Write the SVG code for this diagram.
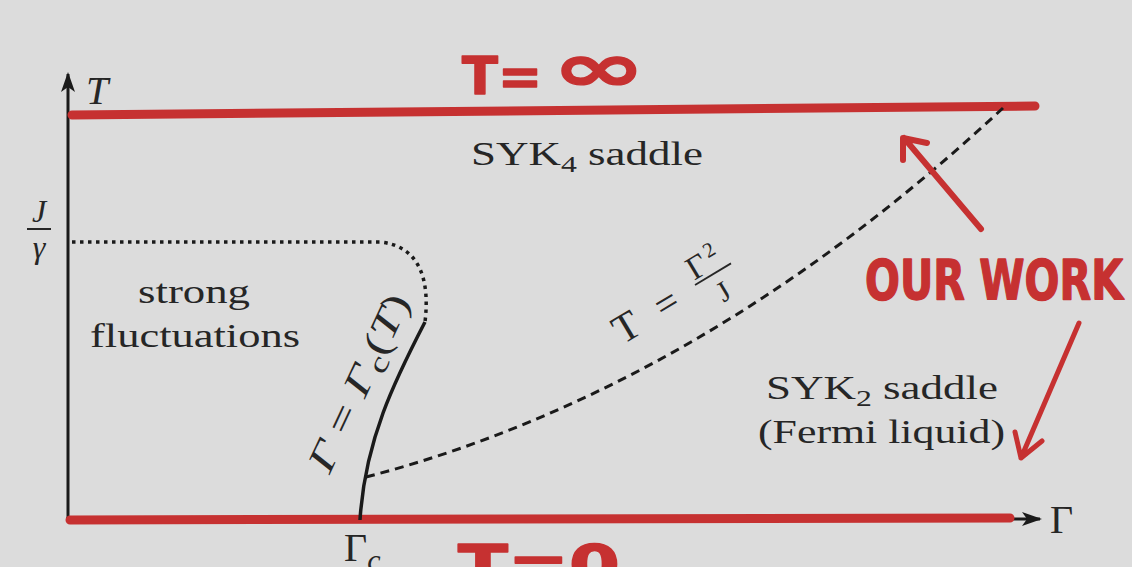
<svg xmlns="http://www.w3.org/2000/svg" width="1132" height="567" viewBox="0 0 1132 567">
<style>
.lbl{font-family:"Liberation Serif","DejaVu Serif",serif;fill:#262626;}
.it{font-style:italic;}
.hand{font-family:"DejaVu Sans","Liberation Sans",sans-serif;font-weight:bold;fill:#c63131;stroke:#c63131;stroke-width:1.5;stroke-linejoin:round;}
.red{stroke:#c63131;fill:none;stroke-linecap:round;stroke-linejoin:round;}
</style>
<defs>
<marker id="ah" viewBox="0 0 20 14" refX="18" refY="7" markerWidth="20" markerHeight="14" markerUnits="userSpaceOnUse" orient="auto">
<path d="M0,0 L20,7 L0,14 L5,7 Z" fill="#1a1a1a"/>
</marker>
</defs>
<rect width="1132" height="567" fill="#dcdcdc"/>
<g id="connectors">
<line x1="68" y1="521" x2="68" y2="74" stroke="#1a1a1a" stroke-width="3" marker-end="url(#ah)"/>
<line x1="66" y1="519" x2="1040" y2="519" stroke="#1a1a1a" stroke-width="3" marker-end="url(#ah)"/>
<path class="red" d="M70,520 L1010,518" stroke-width="9"/>
<path class="red" d="M72,115 L1035,106" stroke-width="9"/>
<path d="M72,242 L380,242 C420,246 430,280 425,322" fill="none" stroke="#1a1a1a" stroke-width="3.5" stroke-dasharray="3.5,4.5"/>
<path d="M425,322 C395,380 365,440 360,520" fill="none" stroke="#1a1a1a" stroke-width="3.5"/>
<path d="M366,477 Q700,390 1003,108" fill="none" stroke="#1a1a1a" stroke-width="3" stroke-dasharray="9,6"/>
<path class="red" d="M981,229 L904,138 M903,160 L903,138 L927,143" stroke-width="6"/>
<path class="red" d="M1079,323 L1021,458 M1015,432 L1021,458 L1042,441" stroke-width="5"/>
</g>
<g id="axis-labels">
<text class="lbl it" x="86" y="104" font-size="40">T</text>
<text class="lbl" x="1050" y="533" font-size="40">Γ</text>
<text class="lbl it" x="39" y="222" font-size="32" text-anchor="middle">J</text>
<line x1="27" y1="229" x2="51" y2="229" stroke="#262626" stroke-width="2"/>
<text class="lbl it" x="39" y="258" font-size="32" text-anchor="middle">γ</text>
<text class="lbl" x="344" y="561" font-size="40">Γ<tspan class="it" font-size="30" dy="9">c</tspan></text>
</g>
<g id="syk4">
<text class="lbl" x="471" y="165" font-size="34" textLength="232" lengthAdjust="spacingAndGlyphs">SYK<tspan font-size="24" dy="7">4</tspan><tspan dy="-7"> saddle</tspan></text>
</g>
<g id="strong">
<text class="lbl" x="138" y="303" font-size="34" textLength="112" lengthAdjust="spacingAndGlyphs">strong</text>
<text class="lbl" x="90" y="347" font-size="34" textLength="210" lengthAdjust="spacingAndGlyphs">fluctuations</text>
</g>
<g id="syk2">
<text class="lbl" x="766" y="399" font-size="34" textLength="232" lengthAdjust="spacingAndGlyphs">SYK<tspan font-size="24" dy="7">2</tspan><tspan dy="-7"> saddle</tspan></text>
<text class="lbl" x="758" y="443" font-size="34" textLength="247" lengthAdjust="spacingAndGlyphs">(Fermi liquid)</text>
</g>
<g id="gamma-c">
<text class="lbl" transform="translate(370,388) rotate(-65)" x="-96" y="0" font-size="38" textLength="192" lengthAdjust="spacingAndGlyphs"><tspan class="it">Γ</tspan> = <tspan class="it">Γ</tspan><tspan font-size="28" dy="7">c</tspan><tspan dy="-7">(</tspan><tspan class="it">T</tspan>)</text>
</g>
<g id="t-gamma2">
<g transform="translate(695,285) rotate(-31)">
<text class="lbl" x="-93" y="14" font-size="41">T</text>
<text class="lbl" x="-34" y="14" font-size="40" text-anchor="middle">=</text>
<text class="lbl" x="11" y="-4" font-size="33" text-anchor="middle">Γ</text>
<text class="lbl" x="30" y="-16" font-size="21" text-anchor="middle">2</text>
<line x1="0" y1="0" x2="42" y2="0" stroke="#262626" stroke-width="1.8"/>
<text class="lbl" x="21" y="30" font-size="29" text-anchor="middle">J</text>
</g>
</g>
<g id="annotations">
<text class="hand" x="462" y="94" font-size="52" textLength="80" lengthAdjust="spacingAndGlyphs">T=</text>
<text class="hand" x="552" y="93" font-size="80" transform="translate(552,80) scale(1.4,0.85) translate(-552,-80)">∞</text>
<text class="hand" x="865" y="299" font-size="56" textLength="258" lengthAdjust="spacingAndGlyphs">OUR WORK</text>
<text class="hand" x="458" y="584" font-size="56" textLength="162" lengthAdjust="spacingAndGlyphs">T=0</text>
</g>
</svg>
